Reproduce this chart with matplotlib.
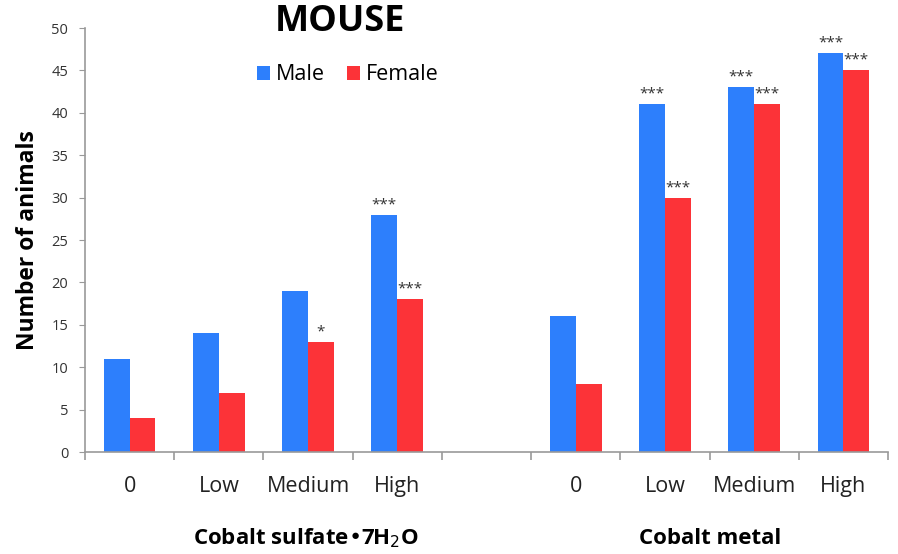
import numpy as np
import matplotlib.pyplot as plt

plt.rcParams['font.family'] = ['Open Sans', 'DejaVu Sans']

doses = ['0', 'Low', 'Medium', 'High', '', '0', 'Low', 'Medium', 'High']
male = [11, 14, 19, 28, None, 16, 41, 43, 47]
female = [4, 7, 13, 18, None, 8, 30, 41, 45]
male_sig = ['', '', '', '***', '', '', '***', '***', '***']
female_sig = ['', '', '*', '***', '', '', '***', '***', '***']
groups = ['Cobalt sulfate•7H$_2$O', 'Cobalt metal']

blue = '#2d7ffc'
red = '#fc3338'

fig = plt.figure(figsize=(8.98, 5.54), dpi=100)
ax = fig.add_axes([85 / 898, 102 / 554, 803 / 898, 424 / 554])

x = np.arange(len(doses))
w = 0.29
mx = [i for i in x if male[i] is not None]
ax.bar(np.array(mx) - w / 2, [male[i] for i in mx], w, color=blue, label='Male')
ax.bar(np.array(mx) + w / 2, [female[i] for i in mx], w, color=red, label='Female')

for i in mx:
    if male_sig[i]:
        ax.text(i - w / 2, male[i] + 0.3, male_sig[i], ha='center', va='bottom',
                fontsize=11, color='#333333')
    if female_sig[i]:
        ax.text(i + w / 2, female[i] + 0.3, female_sig[i], ha='center', va='bottom',
                fontsize=11, color='#333333')

ax.set_xlim(-0.5, len(doses) - 0.5)
ax.set_ylim(0, 50)
ax.set_yticks(range(0, 51, 5))
ax.set_xticks(x)
ax.set_xticklabels(doses, fontsize=15.5, color='#222222')
ax.set_xticks(np.arange(-0.5, len(doses), 1), minor=True)
ax.tick_params(axis='x', which='major', length=0, pad=17)
ax.tick_params(axis='x', which='minor', length=6, color='#999999', width=1.2)
ax.tick_params(axis='y', length=4, color='#999999', labelsize=10.5,
               labelcolor='#333333', pad=8)

for s in ['top', 'right']:
    ax.spines[s].set_visible(False)
ax.spines['left'].set_color('#999999')
ax.spines['bottom'].set_color('#999999')
ax.spines['left'].set_linewidth(1.2)
ax.spines['bottom'].set_linewidth(1.2)

ax.set_ylabel('Number of animals', fontsize=16.5, fontweight='bold', labelpad=8)

fig.text(306 / 898, 1 - 538 / 554, groups[0], ha='center', va='center',
         fontsize=16, fontweight='bold')
fig.text(710 / 898, 1 - 538 / 554, groups[1], ha='center', va='center',
         fontsize=16, fontweight='bold')
fig.text(340 / 898, 1 - 22 / 554, 'MOUSE', ha='center', va='center',
         fontsize=26, fontweight='bold')

ax.legend(loc='center', bbox_to_anchor=(348 / 898, 1 - 75 / 554),
          bbox_transform=fig.transFigure, ncol=2, frameon=False, fontsize=15.5,
          handlelength=0.6, handleheight=0.6, handletextpad=0.3, columnspacing=1.0)

fig.savefig('out.png', dpi=100)
